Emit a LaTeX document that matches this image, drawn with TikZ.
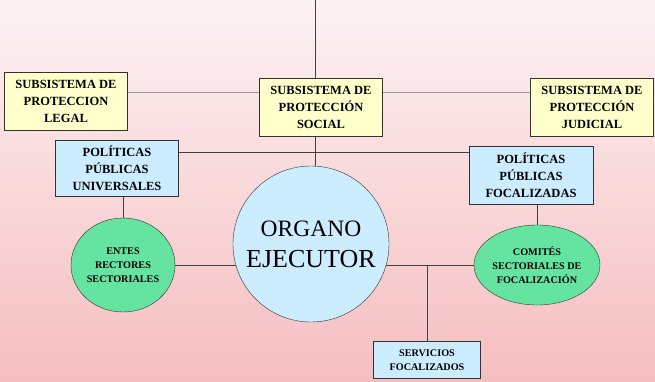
\documentclass[tikz,border=0pt]{standalone}
\usepackage{fontspec}
\setmainfont{Liberation Serif}
\usetikzlibrary{backgrounds,shapes.geometric}

\definecolor{fondoarriba}{RGB}{252,242,244}
\definecolor{fondoabajo}{RGB}{246,190,192}
\definecolor{amarillo}{RGB}{255,255,204}
\definecolor{celeste}{RGB}{204,236,255}
\definecolor{verde}{RGB}{100,228,160}

\tikzset{
  subsistema/.style={draw=black!80, fill=amarillo, minimum width=123pt,
    minimum height=58pt, inner sep=0pt, align=center,
    font=\fontsize{12.5}{17}\selectfont\bfseries},
  politica/.style={subsistema, fill=celeste},
  ente/.style={draw=black!80, fill=verde, ellipse, inner sep=0pt, align=center,
    font=\fontsize{10.2}{14}\selectfont\bfseries},
  enlace/.style={draw=black!75, line width=0.8pt},
  enlacegris/.style={draw=black!40, line width=0.8pt}
}

\begin{document}
\begin{tikzpicture}[x=1pt,y=-1pt]
    \useasboundingbox (0,0) rectangle (655,382);
    \node[subsistema] (legal) at (66,101) {SUBSISTEMA DE\\PROTECCION\\LEGAL};
    \node[subsistema] (social) at (321,107) {SUBSISTEMA DE\\PROTECCIÓN\\SOCIAL};
    \node[subsistema] (judicial) at (592,107) {SUBSISTEMA DE\\PROTECCIÓN\\JUDICIAL};
    \node[politica, minimum height=56pt] (univ) at (117,168) {POLÍTICAS\\PÚBLICAS\\UNIVERSALES};
    \node[politica, minimum width=124pt] (focal) at (531,175) {POLÍTICAS\\PÚBLICAS\\FOCALIZADAS};
    \node[draw=black!80, fill=celeste, circle, minimum size=156pt, inner sep=0pt,
      align=center, font=\fontsize{26}{31}\selectfont] (organo) at (311,244)
      {{\fontsize{23.5}{31}\selectfont ORGANO}\\EJECUTOR};
    \node[ente, minimum width=104pt, minimum height=94pt] (entes) at (123,265)
      {ENTES\\RECTORES\\SECTORIALES};
    \node[ente, minimum width=106pt, minimum height=80pt] (comites) at (537,265)
      {COMITÉS\\SECTORIALES DE\\FOCALIZACIÓN};
    \node[politica, minimum width=107pt, minimum height=37pt,
      font=\fontsize{10.2}{14}\selectfont\bfseries] (serv) at (427,360)
      {SERVICIOS\\FOCALIZADOS};
    \coordinate (top) at (315,0);
    \coordinate (hl) at (315,152);
    \coordinate (gl) at (315,92);
    \begin{scope}[on background layer]
      \shade[top color=fondoarriba, bottom color=fondoabajo] (0,0) rectangle (655,382);
      % lineas de union
      \draw[enlace] (top) -- (top |- organo.north);
      \draw[enlace] (univ.east |- hl) -- (focal.west |- hl);
      \draw[enlacegris] (legal.east |- gl) -- (social.west |- gl);
      \draw[enlacegris] (social.east |- gl) -- (judicial.west |- gl);
      \draw[enlace] (entes.north |- univ.south) -- (entes.north);
      \draw[enlace] (comites.north |- focal.south) -- (comites.north);
      \draw[enlace] (entes) -- (comites);
      \draw[enlace] (serv.north) -- (serv.north |- comites);
    \end{scope}
\end{tikzpicture}
\end{document}
